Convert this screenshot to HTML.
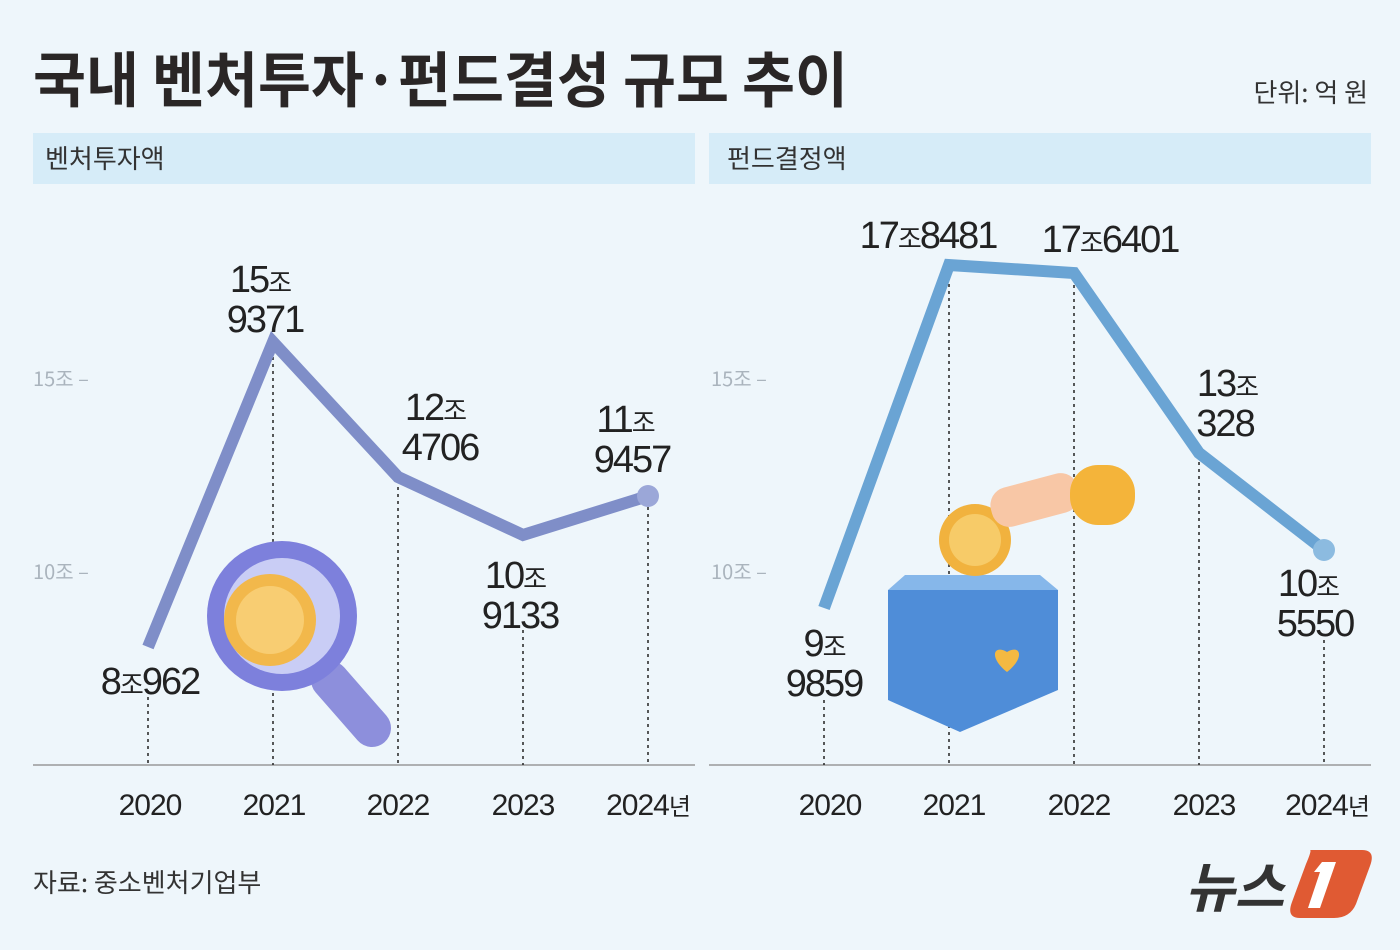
<!DOCTYPE html>
<html><head><meta charset="utf-8"><style>
body{margin:0;background:#eef6fb}
svg{display:block}
.k{font-family:"Liberation Sans Narrow","Liberation Sans","Noto Sans CJK KR",sans-serif}
</style></head><body>
<svg width="1400" height="950" viewBox="0 0 1400 950" xmlns="http://www.w3.org/2000/svg" class="k">
<rect width="1400" height="950" fill="#eef6fb"/>
<text x="33" y="102" font-size="60" font-weight="bold" fill="#2a2626" font-family="'Noto Sans CJK KR',sans-serif" textLength="815" lengthAdjust="spacingAndGlyphs">국내 벤처투자·펀드결성 규모 추이</text>
<text x="1368" y="102" font-size="26" fill="#333" text-anchor="end" font-family="'Noto Sans CJK KR',sans-serif">단위: 억 원</text>
<rect x="33" y="133" width="662" height="51" fill="#d6ecf8"/>
<rect x="709" y="133" width="662" height="51" fill="#d6ecf8"/>
<text x="45" y="168" font-size="26" fill="#333" font-family="'Noto Sans CJK KR',sans-serif">벤처투자액</text>
<text x="727" y="168" font-size="26" fill="#333" font-family="'Noto Sans CJK KR',sans-serif">펀드결정액</text>
<g font-size="20" fill="#aab4bd" font-family="'Noto Sans CJK KR',sans-serif">
<text x="33" y="386">15조 –</text><text x="33" y="579">10조 –</text>
<text x="711" y="386">15조 –</text><text x="711" y="579">10조 –</text></g>
<g stroke="#999" stroke-width="1.5"><line x1="33" y1="765" x2="695" y2="765"/><line x1="709" y1="765" x2="1371" y2="765"/></g>
<g stroke="#222" stroke-width="1.5" stroke-dasharray="3,4">
<line x1="148" y1="690" x2="148" y2="765"/><line x1="273" y1="350" x2="273" y2="765"/><line x1="398" y1="480" x2="398" y2="765"/><line x1="523" y1="630" x2="523" y2="765"/><line x1="648" y1="500" x2="648" y2="765"/>
<line x1="824" y1="700" x2="824" y2="765"/><line x1="949" y1="270" x2="949" y2="765"/><line x1="1074" y1="278" x2="1074" y2="765"/><line x1="1199" y1="455" x2="1199" y2="765"/><line x1="1324" y1="640" x2="1324" y2="765"/>
</g>
<line x1="330" y1="680" x2="372" y2="728" stroke="#8d8fdc" stroke-width="38" stroke-linecap="round"/>
<circle cx="282" cy="616" r="75" fill="#7d80dc"/><circle cx="282" cy="616" r="58" fill="#c9cdf5"/>
<circle cx="270" cy="620" r="46" fill="#f2b84b"/><circle cx="270" cy="620" r="34" fill="#f8cd72"/>
<polygon points="888,590 1058,590 1058,690 960,732 888,700" fill="#4f8dd8"/>
<polygon points="888,590 1058,590 1040,575 905,575" fill="#86b7ea"/>
<path d="M1007 672 c-18-14-14-28 0-20 c14-8 18 6 0 20z" fill="#f4b942"/>
<circle cx="975" cy="540" r="36" fill="#f1b23e"/><circle cx="975" cy="540" r="26" fill="#f7cb68"/>
<rect x="990" y="480" width="90" height="40" rx="18" fill="#f8c7a6" transform="rotate(-15 1035 500)"/>
<rect x="1070" y="465" width="65" height="60" rx="28" fill="#f4b43a"/>
<polyline points="148,647 273,342 398,477 523,535 648,496" fill="none" stroke="#7f8ec8" stroke-width="12"/>
<circle cx="648" cy="496" r="11" fill="#9ba7d8"/>
<polyline points="824,608 949,265 1074,273 1199,453 1324,550" fill="none" stroke="#6aa4d4" stroke-width="12"/>
<circle cx="1324" cy="550" r="11" fill="#8cbbe0"/>
<g font-size="38" fill="#222" text-anchor="middle" letter-spacing="-2">
<text x="150" y="694">8<tspan font-size="26">조</tspan>962</text>
<text x="260" y="292">15<tspan font-size="26">조</tspan></text><text x="265" y="332">9371</text>
<text x="435" y="420">12<tspan font-size="26">조</tspan></text><text x="440" y="460">4706</text>
<text x="515" y="588">10<tspan font-size="26">조</tspan></text><text x="520" y="628">9133</text>
<text x="625" y="432">11<tspan font-size="26">조</tspan></text><text x="632" y="472">9457</text>
<text x="824" y="656">9<tspan font-size="26">조</tspan></text><text x="824" y="696">9859</text>
<text x="928" y="248">17<tspan font-size="26">조</tspan>8481</text>
<text x="1110" y="252">17<tspan font-size="26">조</tspan>6401</text>
<text x="1227" y="396">13<tspan font-size="26">조</tspan></text><text x="1225" y="436">328</text>
<text x="1308" y="596">10<tspan font-size="26">조</tspan></text><text x="1315" y="636">5550</text>
</g>
<g font-size="30" fill="#222" text-anchor="middle" letter-spacing="-1">
<text x="150" y="815">2020</text><text x="274" y="815">2021</text><text x="398" y="815">2022</text><text x="523" y="815">2023</text><text x="648" y="815">2024<tspan font-size="24">년</tspan></text>
<text x="830" y="815">2020</text><text x="954" y="815">2021</text><text x="1079" y="815">2022</text><text x="1204" y="815">2023</text><text x="1327" y="815">2024<tspan font-size="24">년</tspan></text>
</g>
<text x="33" y="892" font-size="26" fill="#333" font-family="'Noto Sans CJK KR',sans-serif">자료: 중소벤처기업부</text>
<text x="1185" y="907" font-size="54" font-weight="bold" fill="#333" font-style="italic" font-family="'Noto Sans CJK KR',sans-serif">뉴스</text>
<path d="M1310 850 h52 q14 0 8 16 l-14 38 q-6 14 -22 14 h-34 q-14 0 -8 -16 l14 -38 q6 -14 4 -14z" fill="#e05a33"/>
<path d="M1322 862 h14 l-16 46 h-12 l12 -36 h-6z" fill="#fff"/>
</svg>
</body></html>
